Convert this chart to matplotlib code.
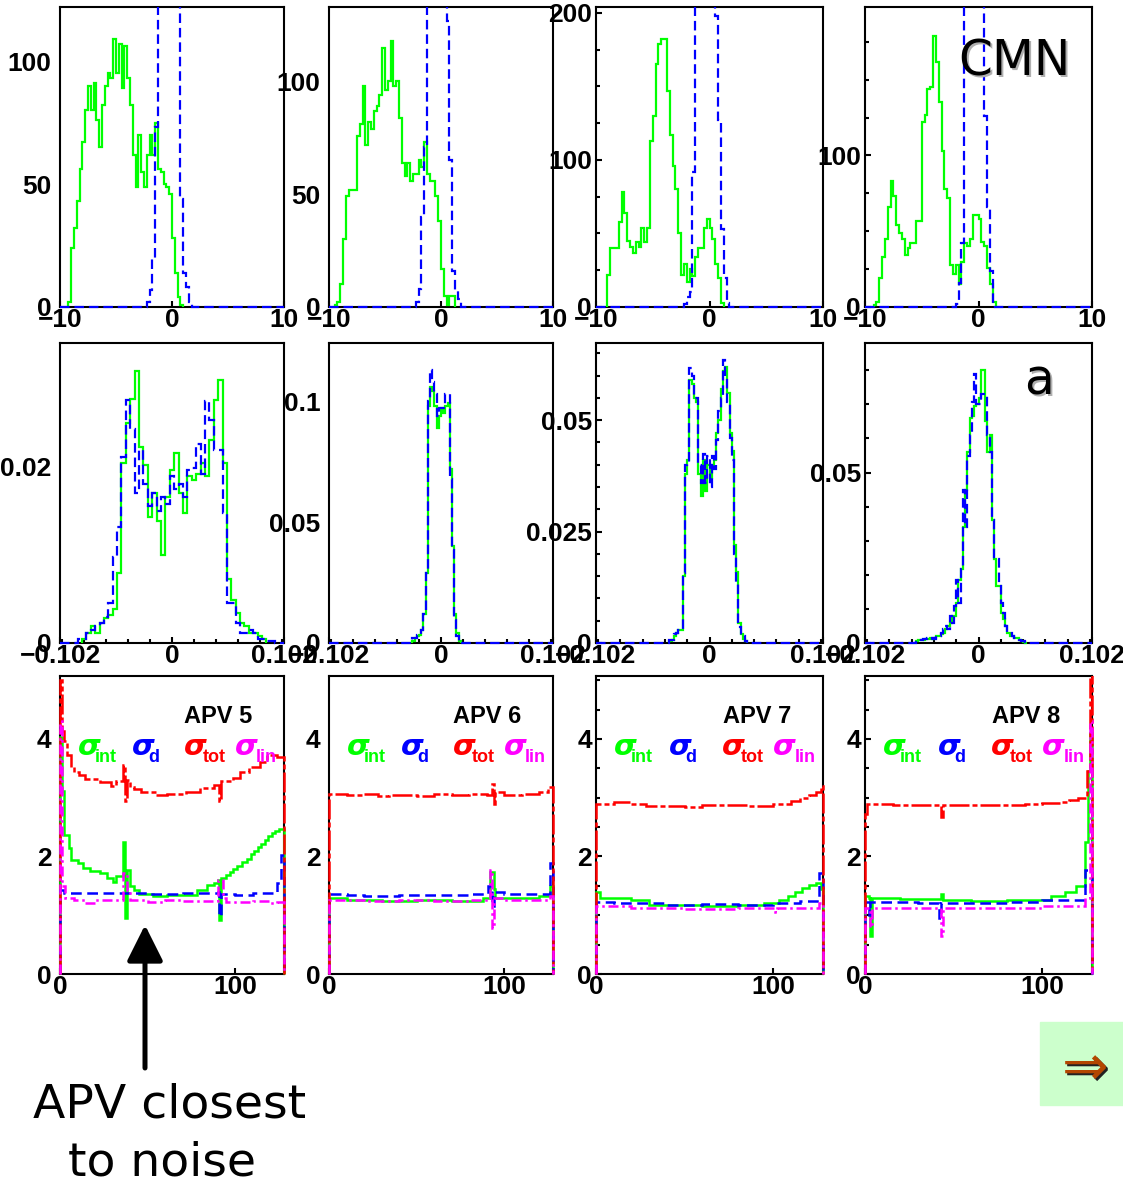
import numpy as np
import matplotlib
matplotlib.use('Agg')
import matplotlib.pyplot as plt
from matplotlib.patches import Rectangle
from matplotlib.ticker import MultipleLocator
from matplotlib import transforms

W, H = 1123, 1183
GREEN, BLUE, RED, MAGENTA = '#00ff00', '#0000ff', '#ff0000', '#ff00ff'
plt.rcParams['font.family'] = ['Liberation Sans', 'DejaVu Sans']
plt.rcParams['font.weight'] = 'bold'
plt.rcParams['axes.linewidth'] = 1.5

# ---------------- row 1 : common mode noise, bins of 0.25 ----------------
cmn_green_start = [-9.25, -9.5, -9.0, -9.25]
cmn_green = [
    [2, 24, 32, 43, 56, 67, 80, 90, 80, 91, 76, 65, 82, 90, 95, 93, 109, 95, 107, 89,
     106, 93, 82, 62, 49, 70, 55, 49, 62, 70, 62, 75, 56, 55, 50, 49, 46, 28, 14, 4, 1],
    [1, 2, 10, 30, 49, 52, 52, 52, 76, 81, 98, 72, 82, 79, 87, 89, 94, 115, 96, 100,
     118, 98, 100, 84, 64, 58, 64, 56, 59, 59, 65, 62, 73, 59, 56, 56, 49, 38, 17, 5, 1, 5, 5],
    [22, 40, 40, 40, 58, 78, 64, 45, 41, 37, 44, 41, 54, 44, 54, 113, 130, 165, 179, 182,
     182, 147, 117, 96, 80, 50, 22, 29, 17, 26, 21, 34, 40, 40, 54, 60, 54, 46, 29, 20, 3],
    [1, 3, 19, 33, 45, 66, 83, 73, 54, 49, 45, 34, 39, 42, 42, 57, 57, 122, 127, 144,
     145, 179, 162, 135, 103, 78, 72, 28, 22, 28, 15, 30, 42, 40, 45, 61, 61, 58, 43, 40, 26, 15, 3],
]
# blue peaks run off the top of the frame (values there are only "off scale")
cmn_blue_start = [-2.25, -2.25, -2.25, -2.0]
cmn_blue = [
    [2, 7, 20, 73, 250, 250, 250, 250, 250, 250, 250, 250, 44, 14, 8, 2],
    [2, 8, 40, 71, 250, 250, 250, 250, 250, 250, 250, 127, 65, 16, 7, 3.5],
    [2, 7, 10, 92, 260, 260, 260, 260, 260, 260, 260, 198, 127, 53, 20, 3],
    [2, 16, 42, 260, 260, 260, 260, 260, 260, 260, 126, 66, 24],
]
cmn_ymax = [122, 133, 204, 198]
cmn_yticks = [[0, 50, 100], [0, 50, 100], [0, 100, 200], [0, 100]]
cmn_yminor = [None, None, 25, 25]

# ---------------- row 2 : slope a ----------------
a_width = [0.004, 0.002, 0.002, 0.002]
a_green_start = [-0.082, -0.026, -0.036, -0.056]
a_green = [
    [0.0004, 0.0011, 0.0019, 0.0011, 0.0023, 0.0028, 0.0032, 0.0038, 0.0079, 0.0204,
     0.0249, 0.0277, 0.0308, 0.0222, 0.0202, 0.0143, 0.017, 0.0138, 0.010, 0.0166,
     0.0196, 0.0215, 0.017, 0.0147, 0.0189, 0.0185, 0.0192, 0.0204, 0.0189, 0.023,
     0.0275, 0.0298, 0.0204, 0.0072, 0.0049, 0.0034, 0.0023, 0.0019, 0.0011, 0.0011,
     0.0008, 0.0004],
    [0.001, 0.002, 0.003, 0.0034, 0.0055, 0.012, 0.029, 0.098, 0.106, 0.104, 0.098,
     0.089, 0.094, 0.097, 0.095, 0.098, 0.099, 0.072, 0.04, 0.012, 0.004, 0.001],
    [0.0004, 0.0007, 0.0015, 0.0022, 0.003, 0.003, 0.0150, 0.038, 0.041, 0.059, 0.058,
     0.055, 0.054, 0.038, 0.033, 0.041, 0.034, 0.040, 0.037, 0.040, 0.041, 0.047, 0.050,
     0.057, 0.061, 0.062, 0.056, 0.047, 0.043, 0.022, 0.016, 0.0045, 0.002, 0.001, 0.0004],
    [0.0005, 0.001, 0.001, 0.001, 0.0012, 0.0012, 0.0015, 0.0012, 0.0015, 0.002,
     0.002, 0.0025, 0.003, 0.004, 0.005, 0.006, 0.0078, 0.008, 0.0118, 0.0186,
     0.0216, 0.034, 0.045, 0.056, 0.066, 0.0667, 0.0696, 0.07, 0.072, 0.08,
     0.08, 0.065, 0.056, 0.061, 0.036, 0.0245, 0.0167, 0.0167, 0.0088, 0.0069,
     0.0049, 0.003, 0.002, 0.002, 0.0015, 0.0015, 0.001, 0.0005, 0.0003, 0.0001],
]
a_blue_start = [-0.086, -0.026, -0.036, -0.056]
a_blue = [
    [0.0004, 0.0004, 0.0011, 0.0015, 0.0019, 0.0023, 0.003, 0.0045, 0.0098, 0.0132,
     0.0211, 0.0275, 0.0242, 0.017, 0.0219, 0.018, 0.0155, 0.017, 0.015, 0.0166,
     0.0158, 0.0189, 0.0174, 0.018, 0.0166, 0.0196, 0.0198, 0.0226, 0.0192, 0.0274,
     0.0253, 0.0219, 0.0219, 0.0147, 0.0045, 0.0045, 0.0023, 0.0011, 0.0011, 0.0015,
     0.0011, 0.0004, 0.0004, 0.0002, 0.0002],
    [0.002, 0.002, 0.0034, 0.0034, 0.0055, 0.012, 0.029, 0.100, 0.113, 0.108, 0.103,
     0.094, 0.097, 0.097, 0.097, 0.103, 0.103, 0.0676, 0.0386, 0.0097, 0.003, 0.001],
    [0.0007, 0.0007, 0.002, 0.0022, 0.003, 0.003, 0.0157, 0.040, 0.0403, 0.0616, 0.06,
     0.055, 0.055, 0.04, 0.036, 0.0425, 0.036, 0.042, 0.035, 0.042, 0.039, 0.0455, 0.052,
     0.055, 0.0634, 0.06, 0.054, 0.046, 0.041, 0.02, 0.0134, 0.0037, 0.0015, 0.0015, 0.0004],
    [0.001, 0.001, 0.001, 0.0012, 0.0012, 0.0015, 0.0012, 0.0015, 0.0012, 0.002,
     0.002, 0.003, 0.004, 0.005, 0.004, 0.0078, 0.006, 0.0108, 0.0186, 0.0118,
     0.0216, 0.045, 0.034, 0.055, 0.061, 0.0706, 0.079, 0.07, 0.07, 0.073,
     0.073, 0.0725, 0.061, 0.056, 0.036, 0.0245, 0.0245, 0.0167, 0.0118, 0.0088,
     0.0049, 0.003, 0.003, 0.002, 0.0015, 0.0015, 0.001, 0.0005, 0.0005, 0.0002],
]
a_ymax = [0.034, 0.124, 0.0673, 0.088]
a_yticks = [[0, 0.02], [0, 0.05, 0.1], [0, 0.025, 0.05], [0, 0.05]]
a_ylabels = [['0', '0.02'], ['0', '0.05', '0.1'], ['0', '0.025', '0.05'], ['0', '0.05']]
a_yminor = [None, None, 0.005, 0.01]

# ---------------- row 3 : noise per channel, (start channel, value) steps ----------------
apv_names = ['APV 5', 'APV 6', 'APV 7', 'APV 8']
int_ch = [
    [0, 1, 2, 5, 6, 10, 13, 17, 23, 27, 30, 32, 36, 37, 38, 40, 42, 45, 53, 61,
     78, 84, 88, 90, 91, 92, 95, 97, 99, 101, 104, 107, 109, 111, 113, 115, 117, 119, 121, 123, 125],
    [0, 10, 30, 50, 70, 88, 92, 94, 95, 110, 120, 126],
    [0, 2, 20, 30, 60, 80, 95, 103, 108, 112, 116, 120, 124, 127],
    [0, 2, 3, 4, 20, 43, 44, 60, 80, 105, 113, 119, 124, 126, 127],
]
int_val = [
    [4.03, 3.12, 2.36, 2.14, 1.94, 1.88, 1.8, 1.76, 1.71, 1.63, 1.57, 1.66, 2.25, 0.95, 1.77, 1.49,
     1.43, 1.36, 1.32, 1.35, 1.43, 1.51, 1.54, 1.6, 0.92, 1.64, 1.68, 1.74, 1.78, 1.84, 1.9, 1.96,
     2.04, 2.1, 2.16, 2.22, 2.28, 2.34, 2.4, 2.44, 2.47],
    [1.3, 1.26, 1.25, 1.26, 1.25, 1.3, 1.74, 1.45, 1.3, 1.3, 1.33, 1.49],
    [1.4, 1.3, 1.26, 1.18, 1.16, 1.17, 1.2, 1.26, 1.32, 1.4, 1.46, 1.52, 1.55, 1.45],
    [1.32, 1.3, 0.64, 1.3, 1.28, 1.36, 1.26, 1.25, 1.26, 1.32, 1.4, 1.49, 2.25, 3.46, 4.1],
]
d_ch = [
    [0, 2, 30, 50, 70, 90, 91, 92, 100, 110, 124, 126],
    [0, 10, 20, 40, 60, 80, 91, 93, 94, 100, 120, 126],
    [0, 10, 40, 60, 80, 100, 115, 124, 126],
    [0, 2, 3, 30, 42, 43, 60, 80, 100, 120, 124],
]
d_val = [
    [1.43, 1.37, 1.38, 1.36, 1.38, 1.4, 0.98, 1.36, 1.34, 1.37, 1.54, 2.02],
    [1.36, 1.35, 1.33, 1.35, 1.34, 1.36, 1.49, 1.15, 1.4, 1.36, 1.36, 1.88],
    [1.22, 1.2, 1.18, 1.19, 1.18, 1.2, 1.25, 1.25, 1.71],
    [1.22, 1.0, 1.22, 1.2, 0.95, 1.2, 1.2, 1.22, 1.26, 1.26, 1.77],
]
tot_ch = [
    [0, 1, 2, 4, 6, 8, 11, 14, 23, 29, 32, 36, 37, 38, 40, 42, 46, 55, 61, 72,
     80, 88, 91, 92, 99, 103, 108, 114, 118, 124],
    [0, 10, 20, 28, 34, 50, 60, 70, 80, 90, 93, 94, 95, 100, 110, 120, 125],
    [0, 10, 20, 28, 50, 60, 75, 85, 100, 110, 115, 120, 124, 127],
    [0, 1, 16, 43, 44, 60, 80, 90, 100, 110, 115, 120, 125, 127],
]
tot_val = [
    [5.0, 4.14, 3.97, 3.72, 3.52, 3.43, 3.38, 3.32, 3.27, 3.2, 3.29, 3.55, 2.95, 3.3, 3.18,
     3.15, 3.1, 3.05, 3.07, 3.1, 3.16, 3.22, 2.95, 3.28, 3.34, 3.44, 3.52, 3.6, 3.72, 3.7],
    [3.07, 3.05, 3.07, 3.03, 3.05, 3.03, 3.06, 3.04, 3.06, 3.05, 3.24, 2.9, 3.1, 3.05, 3.07, 3.1, 3.18],
    [2.9, 2.92, 2.9, 2.86, 2.84, 2.87, 2.88, 2.86, 2.9, 2.95, 3.0, 3.05, 3.1, 3.2],
    [2.73, 2.9, 2.87, 2.67, 2.87, 2.88, 2.87, 2.89, 2.91, 2.93, 2.96, 3.0, 3.46, 5.5],
]
lin_ch = [
    [0, 1, 3, 8, 14, 20, 36, 38, 40, 50, 60, 70, 90, 93, 95, 110, 120, 124],
    [0, 20, 40, 60, 80, 92, 93, 94, 100, 126],
    [0, 20, 50, 80, 100, 101, 102, 124, 126],
    [0, 2, 3, 4, 43, 44, 60, 80, 100, 120, 124, 127],
]
lin_val = [
    [4.3, 1.49, 1.29, 1.26, 1.21, 1.26, 1.71, 1.43, 1.26, 1.22, 1.26, 1.24, 1.6, 1.3, 1.22, 1.25, 1.2, 1.22],
    [1.26, 1.24, 1.26, 1.25, 1.26, 1.77, 0.78, 1.3, 1.26, 1.32],
    [1.15, 1.12, 1.11, 1.12, 1.13, 1.05, 1.13, 1.13, 1.2],
    [1.12, 1.1, 0.8, 1.12, 0.64, 1.12, 1.12, 1.13, 1.15, 1.15, 1.3, 4.3],
]
sig_names = ['int', 'd', 'tot', 'lin']
sig_colors = [GREEN, BLUE, RED, MAGENTA]

# panel geometry in pixels
col_left = [60, 329, 596, 865]
col_w = [224, 224, 227, 227]
row_top = [7, 343, 676]
row_h = [300, 300, 298]

DASH = (0, (4.3, 2.2))
MINUS = '\u2212'
TICK_SIZE = 19


def px_axes(fig, left, top, w, h):
    return fig.add_axes([left / W, 1 - (top + h) / H, w / W, h / H], facecolor='none')


def clip(ax, art):
    art.set_clip_path(Rectangle((-0.01, -0.02), 1.02, 1.02, transform=ax.transAxes))


def hist(ax, start, width, vals, lo=None, hi=None, **kw):
    vals = list(vals)
    if lo is not None:
        nl = int(round((start - lo) / width))
        nr = int(round((hi - (start + width * len(vals))) / width))
        vals = [0] * nl + vals + [0] * nr
        start = lo
    edges = start + width * np.arange(len(vals) + 1)
    art = ax.stairs(vals, edges, baseline=0, zorder=3, **kw)
    clip(ax, art)


def steps(ax, ch, vals, **kw):
    art = ax.stairs(vals, list(ch) + [128], baseline=0, zorder=3, **kw)
    clip(ax, art)


def style(ax, xlim, ylim, xt, xl, yt, yl, yminor=None, yticks_on=True):
    ax.set_xlim(*xlim)
    ax.set_ylim(*ylim)
    ax.set_xticks(xt, xl)
    ax.set_yticks(yt, yl)
    if yminor:
        ax.yaxis.set_minor_locator(MultipleLocator(yminor))
    ax.tick_params(which='major', direction='in', length=4, width=1.5, labelsize=TICK_SIZE)
    ax.tick_params(which='minor', direction='in', length=3, width=1.5)
    ax.tick_params(axis='x', pad=1)
    ax.tick_params(axis='y', pad=3)
    if not yticks_on:
        ax.tick_params(axis='y', which='both', length=0, pad=6)


def shadow_text(ax, x, y, s, size):
    off = transforms.offset_copy(ax.transAxes, fig=ax.figure, x=2, y=-2, units='dots')
    ax.text(x, y, s, transform=off, ha='center', va='baseline', fontsize=size,
            family='DejaVu Sans', weight='normal', color='#b0b0b0')
    ax.text(x, y, s, transform=ax.transAxes, ha='center', va='baseline', fontsize=size,
            family='DejaVu Sans', weight='normal', color='black')


fig = plt.figure(figsize=(W / 100, H / 100), dpi=100)

for i in range(4):
    # row 1
    ax = px_axes(fig, col_left[i], row_top[0], col_w[i], row_h[0])
    hist(ax, cmn_green_start[i], 0.25, cmn_green[i], color=GREEN, lw=1.6)
    hist(ax, cmn_blue_start[i], 0.25, cmn_blue[i], lo=-10, hi=10, color=BLUE, lw=1.6, ls=DASH)
    style(ax, (-10, 10), (0, cmn_ymax[i]), [-10, 0, 10], [MINUS + '10', '0', '10'],
          cmn_yticks[i], [str(v) for v in cmn_yticks[i]], yminor=cmn_yminor[i],
          yticks_on=cmn_yminor[i] is not None)
    if i == 3:
        shadow_text(ax, 0.656, 0.773, 'CMN', 35)

    # row 2
    ax = px_axes(fig, col_left[i], row_top[1], col_w[i], row_h[1])
    hist(ax, a_green_start[i], a_width[i], a_green[i], color=GREEN, lw=1.6)
    hist(ax, a_blue_start[i], a_width[i], a_blue[i], lo=-0.102, hi=0.102,
         color=BLUE, lw=1.6, ls=DASH)
    style(ax, (-0.102, 0.102), (0, a_ymax[i]), [-0.102, 0, 0.102],
          [MINUS + '0.102', '0', '0.102'], a_yticks[i], a_ylabels[i],
          yminor=a_yminor[i], yticks_on=a_yminor[i] is not None)
    ax.set_xticks(np.arange(-0.1, 0.101, 0.02), minor=True)
    if i == 3:
        shadow_text(ax, 0.767, 0.827, 'a', 35)

    # row 3
    ax = px_axes(fig, col_left[i], row_top[2], col_w[i], row_h[2])
    steps(ax, int_ch[i], int_val[i], color=GREEN, lw=1.8)
    steps(ax, d_ch[i], d_val[i], color=BLUE, lw=1.8, ls=DASH)
    steps(ax, tot_ch[i], tot_val[i], color=RED, lw=1.8, ls=(0, (8, 1.2, 2, 1.2)))
    steps(ax, lin_ch[i], lin_val[i], color=MAGENTA, lw=1.8, ls=(0, (4, 1.5, 1, 1.5)))
    style(ax, (0, 128), (0, 5.07), [0, 100], ['0', '100'], [0, 2, 4], ['0', '2', '4'],
          yminor=0.5, yticks_on=i >= 2)
    ax.text(0.86, 0.842, apv_names[i], transform=ax.transAxes, ha='right',
            va='baseline', fontsize=17)
    for x, xs, name, col in zip([0.08, 0.32, 0.555, 0.78], [0.155, 0.395, 0.638, 0.875],
                                sig_names, sig_colors):
        ax.text(x, 0.735, '\u03c3', transform=ax.transAxes, ha='left', va='baseline',
                fontsize=21, style='italic', color=col, family='DejaVu Sans')
        ax.text(xs, 0.711, name, transform=ax.transAxes, ha='left', va='baseline',
                fontsize=13, color=col)

# annotation arrow and text
ax0 = fig.axes[0]
ax0.annotate('', xy=(145, H - 925), xycoords='figure pixels',
             xytext=(145, H - 1068), textcoords='figure pixels',
             arrowprops=dict(arrowstyle='-|>,head_length=2.2,head_width=1.1', lw=3.6,
                             color='black', shrinkA=0, shrinkB=0, mutation_scale=10))
fig.text(170 / W, (H - 1117) / H, 'APV closest', ha='center', va='baseline',
         fontsize=34, family='DejaVu Sans', weight='normal')
fig.text(162 / W, (H - 1175) / H, 'to noise', ha='center', va='baseline',
         fontsize=34, family='DejaVu Sans', weight='normal')

# next-slide button
fig.patches.append(Rectangle((1040 / W, (H - 1105) / H), 83 / W, 83 / H,
                             transform=fig.transFigure, color='#ccffcc', zorder=-5))
fig.text(1087 / W, (H - 1072) / H, '\u21d2', ha='center', va='center', fontsize=40,
         family='DejaVu Sans', weight='normal', color='#222222')
fig.text(1085 / W, (H - 1070) / H, '\u21d2', ha='center', va='center', fontsize=40,
         family='DejaVu Sans', weight='normal', color='#b34700')

fig.savefig('out.png', dpi=100, facecolor='white')
